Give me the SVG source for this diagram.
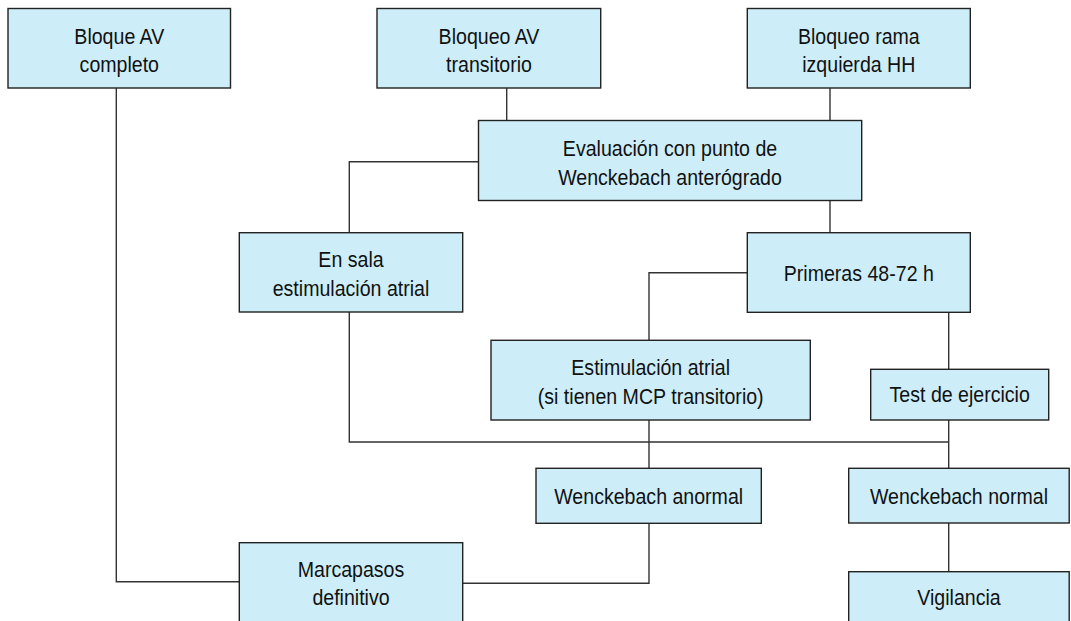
<svg xmlns="http://www.w3.org/2000/svg" width="1071" height="621" viewBox="0 0 1071 621">
<style>
.box{fill:#cdeef9;stroke:#222;stroke-width:1.4}
.t{font-family:"Liberation Sans",Arial,sans-serif;font-size:22px;fill:#111;text-anchor:middle}
.c{fill:none;stroke:#333;stroke-width:1.4}
</style>
<rect width="1071" height="621" fill="#fff"/>
<g id="connectors">
<path class="c" d="M116.3,88 V581.7 H239.3"/>
<path class="c" d="M506.7,88 V120.5"/>
<path class="c" d="M830,88 V120.5"/>
<path class="c" d="M830,200.5 V232.7"/>
<path class="c" d="M478.5,161.7 H349.3 V232.7"/>
<path class="c" d="M349.3,312 V442 H948.7"/>
<path class="c" d="M747.3,272.7 H649 V340"/>
<path class="c" d="M649,420 V468.3"/>
<path class="c" d="M649,523.3 V583.3 H462.7"/>
<path class="c" d="M948.7,312.3 V369.3"/>
<path class="c" d="M948.7,420 V468.3"/>
<path class="c" d="M948.7,523 V571.7"/>
</g>
<g id="n1"><rect class="box" x="8" y="8.5" width="222.5" height="79.5"/><text class="t" transform="translate(119.3 43.5) scale(0.89 1)">Bloque AV</text><text class="t" transform="translate(119.3 72) scale(0.89 1)">completo</text></g>
<g id="n2"><rect class="box" x="377" y="8.5" width="223.7" height="79.5"/><text class="t" transform="translate(489 43.5) scale(0.89 1)">Bloqueo AV</text><text class="t" transform="translate(489 72) scale(0.89 1)">transitorio</text></g>
<g id="n3"><rect class="box" x="747.3" y="8.5" width="223" height="79.5"/><text class="t" transform="translate(858.8 43.5) scale(0.89 1)">Bloqueo rama</text><text class="t" transform="translate(858.8 72) scale(0.89 1)">izquierda HH</text></g>
<g id="n4"><rect class="box" x="478.5" y="120.5" width="383.2" height="80"/><text class="t" transform="translate(670 156) scale(0.89 1)">Evaluación con punto de</text><text class="t" transform="translate(670 184.5) scale(0.89 1)">Wenckebach anterógrado</text></g>
<g id="n5"><rect class="box" x="239.3" y="232.7" width="223.4" height="79.3"/><text class="t" transform="translate(351 267) scale(0.89 1)">En sala</text><text class="t" transform="translate(351 296) scale(0.89 1)">estimulación atrial</text></g>
<g id="n6"><rect class="box" x="747.3" y="232.7" width="223" height="79.6"/><text class="t" transform="translate(858.8 281) scale(0.89 1)">Primeras 48-72 h</text></g>
<g id="n7"><rect class="box" x="491" y="340.3" width="319.3" height="79.7"/><text class="t" transform="translate(650.7 375) scale(0.89 1)">Estimulación atrial</text><text class="t" transform="translate(650.7 403.5) scale(0.89 1)">(si tienen MCP transitorio)</text></g>
<g id="n8"><rect class="box" x="870.7" y="369.3" width="178" height="50.7"/><text class="t" transform="translate(959.7 401.5) scale(0.89 1)">Test de ejercicio</text></g>
<g id="n9"><rect class="box" x="536" y="468.3" width="225.3" height="55"/><text class="t" transform="translate(648.7 504) scale(0.89 1)">Wenckebach anormal</text></g>
<g id="n10"><rect class="box" x="848.7" y="468.3" width="220.5" height="54.7"/><text class="t" transform="translate(959 504.3) scale(0.89 1)">Wenckebach normal</text></g>
<g id="n11"><rect class="box" x="239.3" y="542.7" width="223.4" height="90"/><text class="t" transform="translate(351 576.7) scale(0.89 1)">Marcapasos</text><text class="t" transform="translate(351 605) scale(0.89 1)">definitivo</text></g>
<g id="n12"><rect class="box" x="848.7" y="571.7" width="220.5" height="60"/><text class="t" transform="translate(959 605) scale(0.89 1)">Vigilancia</text></g>
</svg>
